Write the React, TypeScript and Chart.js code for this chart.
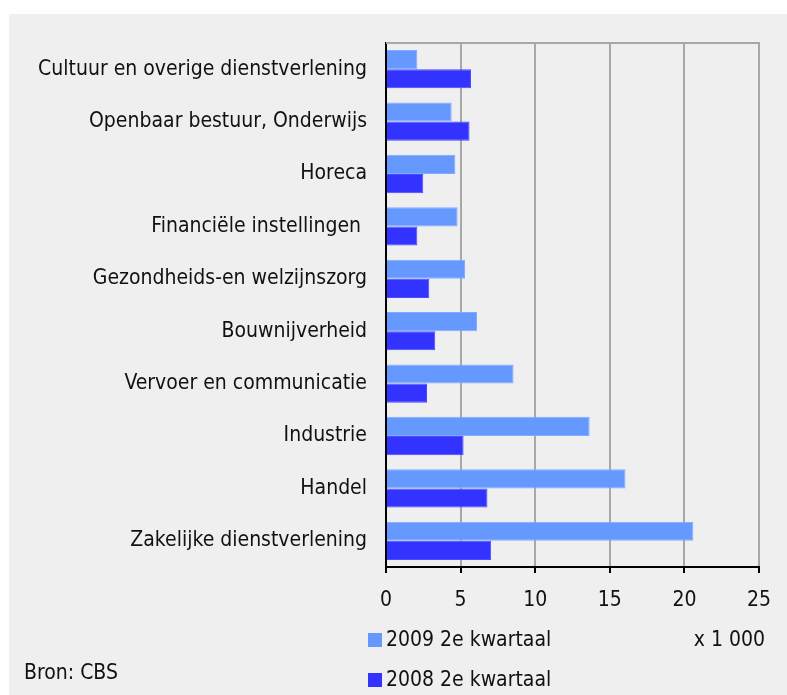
import React, { useEffect, useRef } from "react";
import { Chart, registerables } from "chart.js";

Chart.register(...registerables);

const categories = [
  "Cultuur en overige dienstverlening",
  "Openbaar bestuur, Onderwijs",
  "Horeca",
  "Financiële instellingen ",
  "Gezondheids-en welzijnszorg",
  "Bouwnijverheid",
  "Vervoer en communicatie",
  "Industrie",
  "Handel",
  "Zakelijke dienstverlening",
];
const values2009 = [2.1, 4.4, 4.65, 4.8, 5.3, 6.1, 8.55, 13.65, 16.05, 20.6];
const values2008 = [5.7, 5.6, 2.5, 2.1, 2.9, 3.3, 2.75, 5.2, 6.8, 7.05];
const seriesLabels = ["2009 2e kwartaal", "2008 2e kwartaal"];
const xTicks = [0, 5, 10, 15, 20, 25];
const unitNote = "x 1 000";
const sourceNote = "Bron: CBS";

const FONT = '"DejaVu Sans Condensed", "Liberation Sans", sans-serif';
const FS = 21;
const TEXT = "#111111";
const W = 787;
const H = 695;

export default function App() {
  const ref = useRef<HTMLCanvasElement | null>(null);

  useEffect(() => {
    const canvas = ref.current;
    if (!canvas) return;

    const decor = {
      id: "decor",
      beforeDraw(chart: any) {
        const ctx = chart.ctx;
        ctx.save();
        ctx.fillStyle = "#ffffff";
        ctx.fillRect(0, 0, W, H);
        ctx.fillStyle = "#efefef";
        ctx.fillRect(9, 14, W - 9, H - 14);
        ctx.restore();
      },
      beforeDatasetsDraw(chart: any) {
        const { ctx, chartArea } = chart;
        ctx.save();
        ctx.strokeStyle = "#a8a8a8";
        ctx.lineWidth = 2;
        ctx.beginPath();
        ctx.moveTo(chartArea.left, chartArea.top);
        ctx.lineTo(chartArea.right + 1, chartArea.top);
        ctx.stroke();
        ctx.restore();
      },
      afterDraw(chart: any) {
        const ctx = chart.ctx;
        ctx.save();
        ctx.font = `${FS}px ${FONT}`;
        ctx.textBaseline = "middle";
        const ys = [640, 680];
        chart.data.datasets.forEach((ds: any, i: number) => {
          ctx.fillStyle = ds.backgroundColor;
          ctx.fillRect(368, ys[i] - 7, 14, 14);
          ctx.fillStyle = TEXT;
          ctx.textAlign = "left";
          ctx.fillText(ds.label, 386, ys[i] + 1);
        });
        ctx.fillStyle = TEXT;
        ctx.textAlign = "right";
        ctx.fillText(unitNote, 765, 641);
        ctx.textAlign = "left";
        ctx.fillText(sourceNote, 24, 674);
        ctx.restore();
      },
    };

    const chart = new Chart(canvas, {
      type: "bar",
      data: {
        labels: categories,
        datasets: [
          {
            label: seriesLabels[0],
            data: values2009,
            backgroundColor: "#6699ff",
            borderColor: "#80aaff",
            borderWidth: 1,
            categoryPercentage: 0.73,
            barPercentage: 1.0,
          },
          {
            label: seriesLabels[1],
            data: values2008,
            backgroundColor: "#3333ff",
            borderColor: "#4a4aff",
            borderWidth: 1,
            categoryPercentage: 0.73,
            barPercentage: 1.0,
          },
        ],
      },
      options: {
        indexAxis: "y",
        responsive: false,
        animation: false,
        layout: { padding: { top: 43, right: 28, bottom: 0, left: 0 } },
        plugins: {
          legend: { display: false },
          tooltip: { enabled: false },
          title: { display: false },
        },
        scales: {
          x: {
            type: "linear",
            min: 0,
            max: 25,
            afterBuildTicks: (s: any) => {
              s.ticks = xTicks.map((v) => ({ value: v }));
            },
            afterFit: (s: any) => {
              s.height = H - 567;
            },
            grid: {
              color: "#a8a8a8",
              lineWidth: 2,
              tickColor: "#000000",
              tickLength: 6,
              drawTicks: true,
            },
            border: { display: true, color: "#000000", width: 2 },
            ticks: {
              color: TEXT,
              font: { family: FONT, size: FS },
              padding: 15,
              maxRotation: 0,
            },
          },
          y: {
            type: "category",
            afterFit: (s: any) => {
              s.width = 386;
            },
            grid: { display: false, drawTicks: false },
            border: { display: true, color: "#000000", width: 2 },
            ticks: {
              color: TEXT,
              font: { family: FONT, size: FS },
              padding: 19,
              autoSkip: false,
            },
          },
        },
      },
      plugins: [decor],
    } as any);

    return () => chart.destroy();
  }, []);

  return (
    <div style={{ position: "absolute", left: 0, top: 0, width: W, height: H }}>
      <canvas ref={ref} width={W} height={H} style={{ display: "block" }} />
    </div>
  );
}
